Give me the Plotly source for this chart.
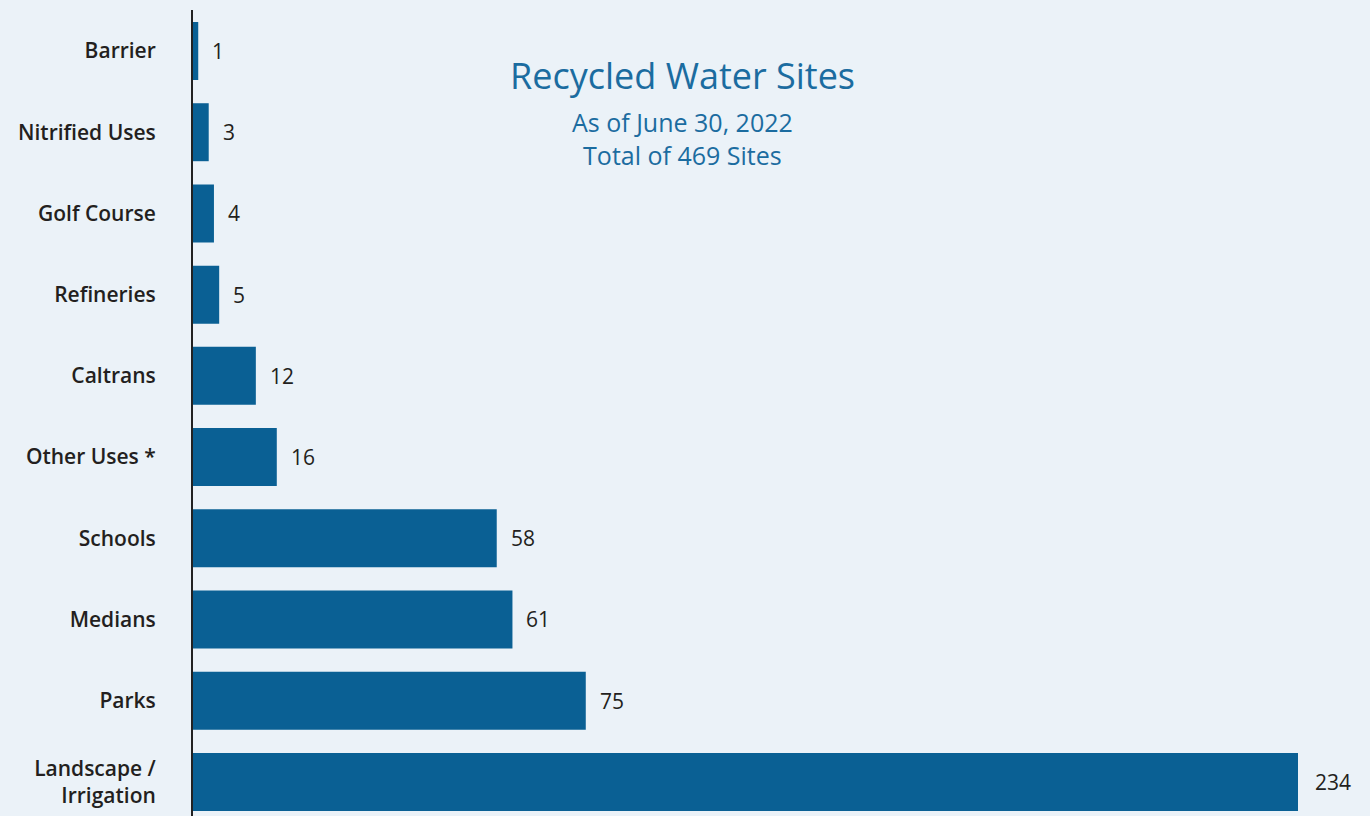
import plotly.graph_objects as go

categories = ["Barrier", "Nitrified Uses", "Golf Course", "Refineries", "Caltrans",
              "Other Uses *", "Schools", "Medians", "Parks", "Landscape /<br>Irrigation"]
values = [1, 3, 4, 5, 12, 16, 58, 61, 75, 234]

XMAX = 211  # reference truncates the longest bar
BG = "#EBF2F8"
BAR = "#0A6094"
TXT = "#231F20"
BLUE = "#1B6CA0"
FONT = "Open Sans"

fig = go.Figure()
fig.add_trace(go.Bar(
    y=categories, x=values, orientation="h",
    marker=dict(color=BAR, line=dict(width=0)),
    hoverinfo="x+y",
))

for c, v in zip(categories, values):
    fig.add_annotation(
        x=min(v, XMAX), y=c, xref="x", yref="y",
        text=str(v), showarrow=False, xanchor="left", xshift=12 if v <= XMAX else 15,
        font=dict(family=FONT, size=21, color=TXT, weight=500),
    )

fig.add_annotation(
    x=0.443, y=0.919, xref="paper", yref="paper",
    text="Recycled Water Sites", showarrow=False, xanchor="center", yanchor="middle",
    font=dict(family=FONT, size=36, color=BLUE),
)
fig.add_annotation(
    x=0.443, y=0.841, xref="paper", yref="paper",
    text="As of June 30, 2022<br>Total of 469 Sites", showarrow=False,
    xanchor="center", yanchor="middle",
    font=dict(family=FONT, size=25, color=BLUE),
)

fig.update_layout(
    width=1370, height=816,
    margin=dict(l=193, r=72, t=10, b=0),
    paper_bgcolor=BG, plot_bgcolor=BG,
    bargap=0.286,
    showlegend=False,
    xaxis=dict(range=[0, XMAX], visible=False, fixedrange=True),
    yaxis=dict(
        type="category", range=[9.42, -0.505],
        showline=True, linecolor="#222222", linewidth=2,
        showgrid=False, zeroline=False, ticks="",
        ticklabelstandoff=31,
        tickfont=dict(family=FONT, size=21, color=TXT, weight=600),
    ),
)

fig.write_html(
    "out.html",
    config={"displayModeBar": False},
    post_script="document.body.style.margin='0';document.body.style.background='%s';" % BG,
)
